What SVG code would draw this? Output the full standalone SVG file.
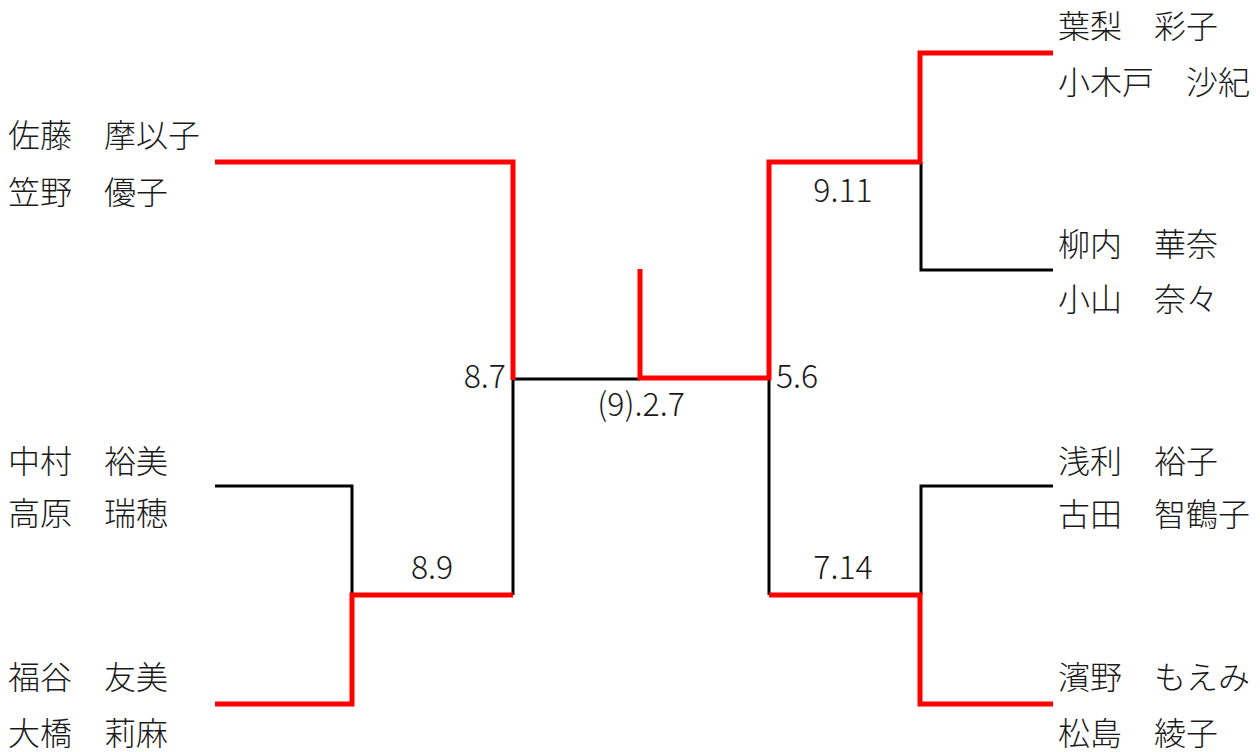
<svg xmlns="http://www.w3.org/2000/svg" width="1260" height="752" viewBox="0 0 1260 752">
<style>
text{font-family:"Noto Sans CJK JP","Noto Sans",sans-serif;font-size:32px;font-weight:300;fill:#1a1a1a}
.score{text-anchor:middle}
.red{fill:none;stroke:#ff0000;stroke-width:5;stroke-linejoin:miter;stroke-linecap:butt}
.blk{fill:none;stroke:#000000;stroke-width:3;stroke-linejoin:miter;stroke-linecap:butt}
</style>
<rect width="1260" height="752" fill="#ffffff"/>
<g id="connectors">
<path class="blk" d="M513,379 H640"/>
<path class="blk" d="M513,379 V595"/>
<path class="blk" d="M769,379 V595"/>
<path class="blk" d="M921,162 V270 H1053"/>
<path class="blk" d="M215,486 H352 V595"/>
<path class="blk" d="M921,595 V486 H1053"/>
<path class="red" d="M215,162 H513 V380"/>
<path class="red" d="M640,269 V378 H769 V162 H920 V53 H1053"/>
<path class="red" d="M513,595 H352 V704 H215"/>
<path class="red" d="M769,595 H920 V704 H1053"/>
</g>
<g id="p-sato"><text x="8" y="146.5">佐藤　摩以子</text></g>
<g id="p-kasano"><text x="8" y="204">笠野　優子</text></g>
<g id="p-nakamura"><text x="8" y="473">中村　裕美</text></g>
<g id="p-takahara"><text x="8" y="525">高原　瑞穂</text></g>
<g id="p-fukutani"><text x="8" y="689">福谷　友美</text></g>
<g id="p-ohashi"><text x="8" y="745">大橋　莉麻</text></g>
<g id="p-hanashi"><text x="1058" y="37.5">葉梨　彩子</text></g>
<g id="p-kokido"><text x="1058" y="93.5">小木戸　沙紀</text></g>
<g id="p-yanagiuchi"><text x="1058" y="255.5">柳内　華奈</text></g>
<g id="p-koyama"><text x="1058" y="311">小山　奈々</text></g>
<g id="p-asari"><text x="1058" y="473">浅利　裕子</text></g>
<g id="p-furuta"><text x="1058" y="526">古田　智鶴子</text></g>
<g id="p-hamano"><text x="1058" y="688.5">濱野　もえみ</text></g>
<g id="p-matsushima"><text x="1058" y="745">松島　綾子</text></g>
<g id="scores">
<text class="score" x="843" y="202">9.11</text>
<text x="506" y="388" text-anchor="end">8.7</text>
<text x="776" y="388">5.6</text>
<text class="score" x="641" y="416">(9).2.7</text>
<text class="score" x="432" y="579">8.9</text>
<text class="score" x="843" y="579">7.14</text>
</g>
</svg>
